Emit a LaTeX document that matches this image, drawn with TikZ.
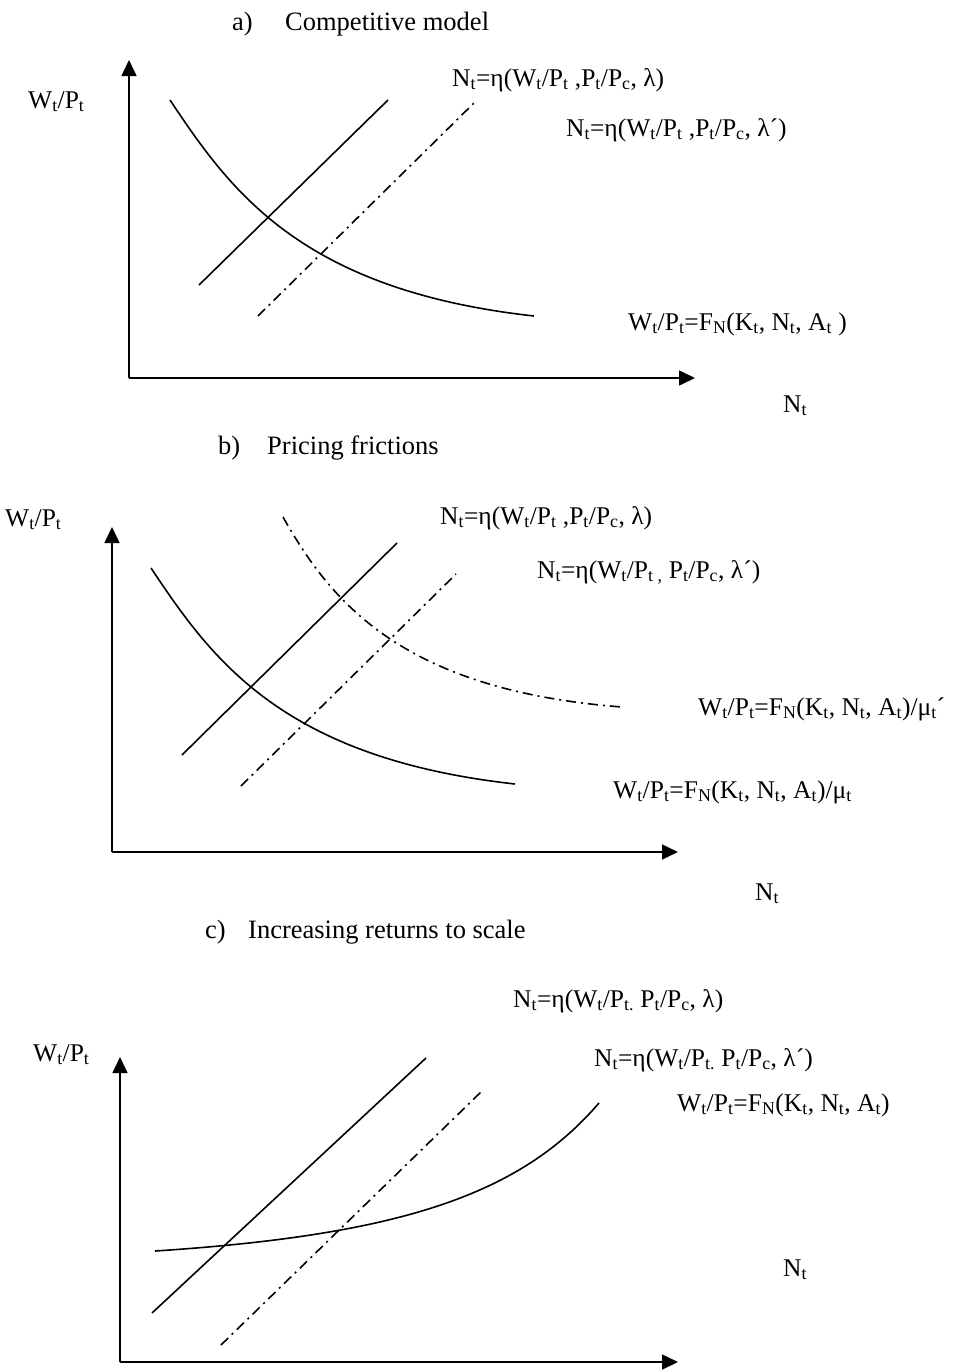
\documentclass[tikz,border=0pt]{standalone}
\usepackage{fontspec}
\setmainfont{Liberation Serif}
\usetikzlibrary{arrows.meta}
\newcommand{\tsb}[1]{\textsubscript{#1}}
\tikzset{
  lbl/.style={anchor=base west, inner sep=0pt, font=\fontsize{25.5}{30}\selectfont},
  ttl/.style={anchor=base west, inner sep=0pt, font=\fontsize{26.5}{31}\selectfont},
  axisline/.style={line width=1.6pt, -{Triangle[length=16pt,width=15pt]}},
  solidcurve/.style={line width=1.6pt},
  dashdotcurve/.style={line width=1.6pt, dash pattern=on 10pt off 5pt on 2pt off 5pt},
}
\begin{document}
\begin{tikzpicture}[x=1pt,y=-1pt]
\useasboundingbox (0,0) rectangle (953,1371);

% ---------- panel a ----------
\node[ttl] (ta1) at (232,30) {a)};
\node[ttl] (ta2) at (285,30) {Competitive model};
\node[lbl] (ya) at (28,108) {W\tsb{t}/P\tsb{t}};
\node[lbl] (xa) at (783,412) {N\tsb{t}};
\coordinate (oa) at (129,378);
\coordinate (yta) at (129,60);
\coordinate (xta) at (695,378);
\draw[axisline] (oa) -- (yta);
\draw[axisline] (oa) -- (xta);
\coordinate (sa1) at (199,285);
\coordinate (sa2) at (388,100);
\draw[solidcurve] (sa1) -- (sa2);
\coordinate (da1) at (258,316);
\coordinate (da2) at (476,101);
\draw[dashdotcurve] (da1) -- (da2);
\coordinate (ca1) at (170,100);
\coordinate (ca2) at (534,316);
\draw[solidcurve] (ca1) .. controls (230,190) and (300,290) .. (ca2);
\node[lbl] (la1) at (452,86) {N\tsb{t}=η(W\tsb{t}/P\tsb{t} ,P\tsb{t}/P\tsb{c}, λ)};
\node[lbl] (la2) at (566,136) {N\tsb{t}=η(W\tsb{t}/P\tsb{t} ,P\tsb{t}/P\tsb{c}, λ´)};
\node[lbl] (la3) at (628,330) {W\tsb{t}/P\tsb{t}=F\tsb{N}(K\tsb{t}, N\tsb{t}, A\tsb{t} )};

% ---------- panel b ----------
\node[ttl] (tb1) at (218,454) {b)};
\node[ttl] (tb2) at (267,454) {Pricing frictions};
\node[lbl] (yb) at (5,526) {W\tsb{t}/P\tsb{t}};
\node[lbl] (xb) at (755,900) {N\tsb{t}};
\coordinate (ob) at (112,852);
\coordinate (ytb) at (112,527);
\coordinate (xtb) at (678,852);
\draw[axisline] (ob) -- (ytb);
\draw[axisline] (ob) -- (xtb);
\coordinate (sb1) at (182,755);
\coordinate (sb2) at (397,543);
\draw[solidcurve] (sb1) -- (sb2);
\coordinate (db1) at (241,786);
\coordinate (db2) at (456,574);
\draw[dashdotcurve] (db1) -- (db2);
\coordinate (cb1) at (151,568);
\coordinate (cb2) at (515,784);
\draw[solidcurve] (cb1) .. controls (211,658) and (281,758) .. (cb2);
\coordinate (eb1) at (283,517);
\coordinate (eb2) at (622,707);
\draw[dashdotcurve] (eb1) .. controls (330,600) and (400,690) .. (eb2);
\node[lbl] (lb1) at (440,524) {N\tsb{t}=η(W\tsb{t}/P\tsb{t} ,P\tsb{t}/P\tsb{c}, λ)};
\node[lbl] (lb2) at (537,578) {N\tsb{t}=η(W\tsb{t}/P\tsb{t ,} P\tsb{t}/P\tsb{c}, λ´)};
\node[lbl] (lb3) at (698,715) {W\tsb{t}/P\tsb{t}=F\tsb{N}(K\tsb{t}, N\tsb{t}, A\tsb{t})/μ\tsb{t}´};
\node[lbl] (lb4) at (613,798) {W\tsb{t}/P\tsb{t}=F\tsb{N}(K\tsb{t}, N\tsb{t}, A\tsb{t})/μ\tsb{t}};

% ---------- panel c ----------
\node[ttl] (tc1) at (205,938) {c)};
\node[ttl] (tc2) at (248,938) {Increasing returns to scale};
\node[lbl] (yc) at (33,1061) {W\tsb{t}/P\tsb{t}};
\node[lbl] (xc) at (783,1276) {N\tsb{t}};
\coordinate (oc) at (120,1362);
\coordinate (ytc) at (120,1057);
\coordinate (xtc) at (678,1362);
\draw[axisline] (oc) -- (ytc);
\draw[axisline] (oc) -- (xtc);
\coordinate (sc1) at (152,1313);
\coordinate (sc2) at (426,1058);
\draw[solidcurve] (sc1) -- (sc2);
\coordinate (dc1) at (221,1345);
\coordinate (dc2) at (483,1090);
\draw[dashdotcurve] (dc1) -- (dc2);
\coordinate (cc1) at (155,1251);
\coordinate (cc2) at (599,1103);
\draw[solidcurve] (cc1) .. controls (400,1235) and (520,1195) .. (cc2);
\node[lbl] (lc1) at (513,1007) {N\tsb{t}=η(W\tsb{t}/P\tsb{t.} P\tsb{t}/P\tsb{c}, λ)};
\node[lbl] (lc2) at (594,1066) {N\tsb{t}=η(W\tsb{t}/P\tsb{t.} P\tsb{t}/P\tsb{c}, λ´)};
\node[lbl] (lc3) at (677,1111) {W\tsb{t}/P\tsb{t}=F\tsb{N}(K\tsb{t}, N\tsb{t}, A\tsb{t})};
\end{tikzpicture}
\end{document}
